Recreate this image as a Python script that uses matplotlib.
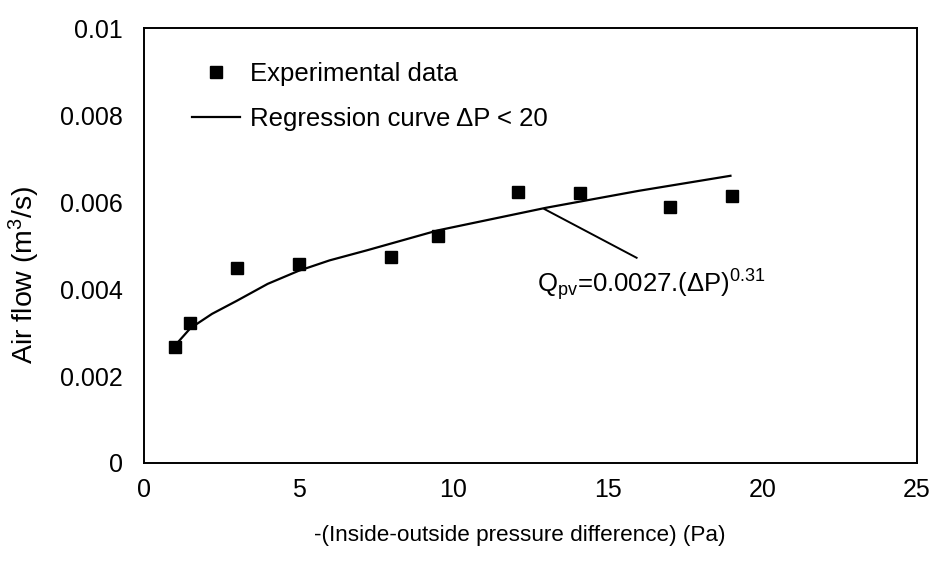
import matplotlib
matplotlib.use("Agg")
import matplotlib.pyplot as plt
from matplotlib.lines import Line2D

plt.rcParams['font.family'] = ['Liberation Sans', 'DejaVu Sans']
plt.rcParams['mathtext.fontset'] = 'custom'
plt.rcParams['mathtext.rm'] = 'Liberation Sans'
plt.rcParams['mathtext.it'] = 'Liberation Sans'

# Experimental data
dp_exp = [1.0, 1.5, 3.0, 5.0, 8.0, 9.5, 12.1, 14.1, 17.0, 19.0]
q_exp = [0.00267, 0.00321, 0.00449, 0.00457, 0.00474, 0.00521, 0.00623, 0.00620, 0.00588, 0.00613]

# Regression curve
dp_fit = [1.0, 1.5, 2.2, 3.0, 4.0, 5.0, 6.0, 7.2, 9.5, 13.0, 16.0, 19.0]
q_fit = [0.0027, 0.0031, 0.00343, 0.00373, 0.00412, 0.00442, 0.00466, 0.00489, 0.00535, 0.00587, 0.00626, 0.00661]

xticks = [0, 5, 10, 15, 20, 25]
yticks = [0, 0.002, 0.004, 0.006, 0.008, 0.01]
ytick_labels = ['0', '0.002', '0.004', '0.006', '0.008', '0.01']

fig = plt.figure(figsize=(9.32, 5.61), dpi=100)
ax = fig.add_axes([0.1545, 0.1747, 0.8295, 0.775])

ax.plot(dp_fit, q_fit, color='black', lw=1.6, solid_capstyle='butt',
        solid_joinstyle='round')
ax.plot(dp_exp, q_exp, linestyle='none', marker='s', markersize=9,
        color='black', markeredgecolor='black')

ax.set_xlim(0, 25)
ax.set_ylim(0, 0.01)
ax.set_xticks(xticks)
ax.set_xticklabels([str(t) for t in xticks])
ax.set_yticks(yticks)
ax.set_yticklabels(ytick_labels)
ax.tick_params(axis='both', length=0, labelsize=18)
ax.tick_params(axis='y', pad=15)
ax.tick_params(axis='x', pad=11)
for s in ax.spines.values():
    s.set_linewidth(1.4)
    s.set_color('black')

ax.set_xlabel('-(Inside-outside pressure difference) (Pa)', fontsize=16.2)
ax.xaxis.set_label_coords(0.486, -0.142)
ax.set_ylabel(r'Air flow (m$^3$/s)', fontsize=20.5)
ax.yaxis.set_label_coords(-0.132, 0.432)

handles = [Line2D([], [], linestyle='none', marker='s', markersize=9, color='black'),
           Line2D([], [], color='black', lw=1.6)]
labels = ['Experimental data', 'Regression curve \u0394P < 20']
ax.legend(handles, labels, loc='upper left', bbox_to_anchor=(0.062, 0.922),
          frameon=False, fontsize=18.5, handlelength=1.87, handletextpad=0.39,
          labelspacing=0.8, borderaxespad=0, borderpad=0)

ax.annotate(r'$\mathrm{Q_{pv}}$=0.0027.($\Delta$P)$^{\mathrm{0.31}}$',
            xy=(12.95, 0.00584), xytext=(12.7, 0.00410),
            fontsize=18.5, ha='left', va='center')
ax.plot([12.95, 15.93], [0.00584, 0.00472], color='black', lw=1.4)

fig.savefig('out.png', dpi=100)
